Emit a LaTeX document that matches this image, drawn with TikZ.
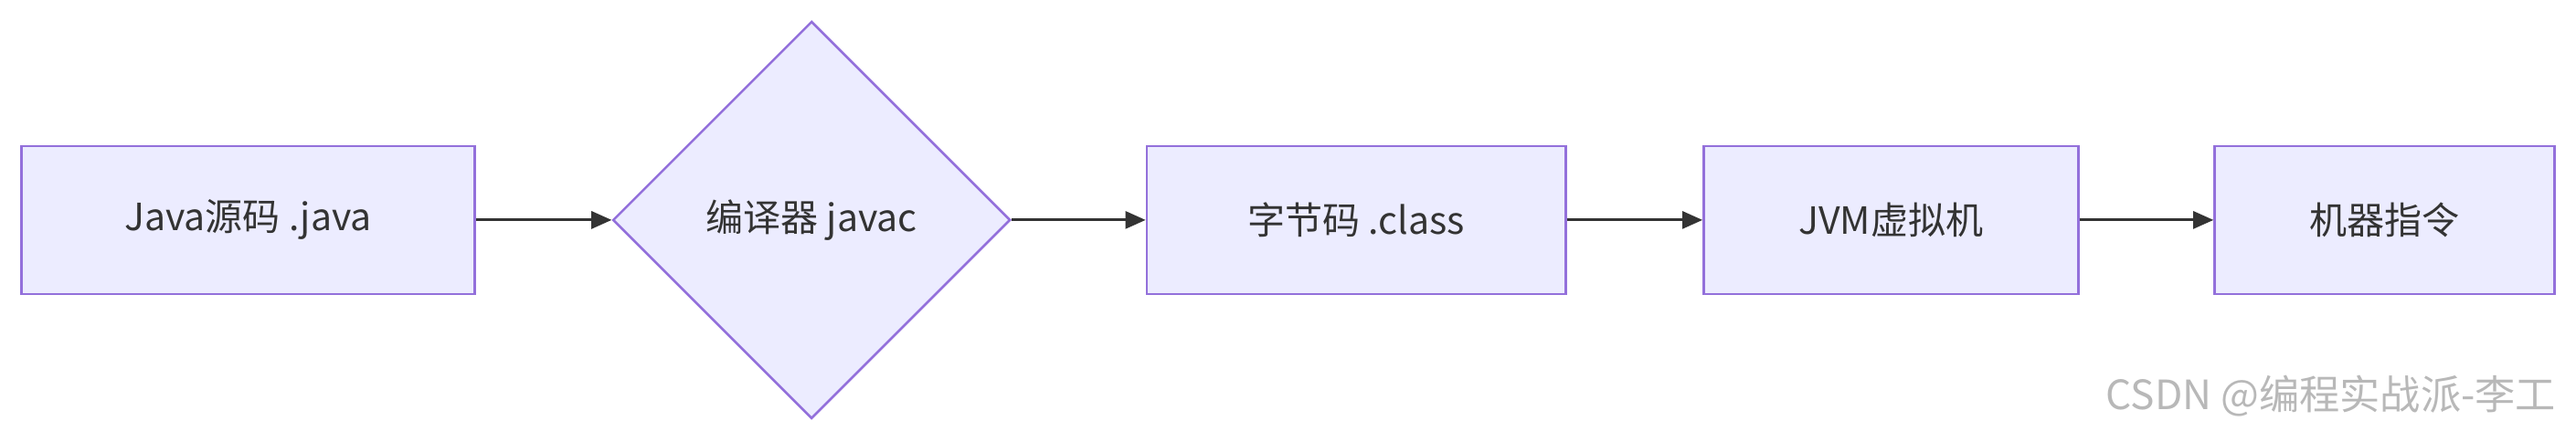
\documentclass[tikz,border=0pt]{standalone}
\usepackage{fontspec}
\setmainfont{Noto Sans CJK SC}
\usetikzlibrary{shapes.geometric,arrows.meta}
\definecolor{nfill}{HTML}{ECECFF}
\definecolor{nline}{HTML}{9370DB}
\definecolor{eline}{HTML}{333333}
\tikzset{
  boxnode/.style={draw=nline,fill=nfill,line width=0.8pt,minimum height=1.8cm,inner sep=0pt,font=\fontsize{13}{15}\selectfont,text=eline},
  decnode/.style={diamond,draw=nline,fill=nfill,line width=0.8pt,minimum width=4.84cm,minimum height=4.84cm,inner sep=0pt,font=\fontsize{13}{15}\selectfont,text=eline},
  edge/.style={draw=eline,line width=0.9pt,-{Triangle[length=7pt,width=6pt]}}
}
\begin{document}
\begin{tikzpicture}[x=0.02cm,y=-0.02cm]
\path[use as bounding box] (0,0) rectangle (1568,269);
\node[boxnode,minimum width=5.52cm] (a) at (151,134) {Java源码 .java};
\node[decnode] (b) at (494,134) {编译器 javac};
\node[boxnode,minimum width=5.1cm] (c) at (825.5,134) {字节码 .class};
\node[boxnode,minimum width=4.56cm] (d) at (1151,134) {JVM虚拟机};
\node[boxnode,minimum width=4.14cm] (e) at (1451.5,134) {机器指令};
\draw[edge] (a) -- (b);
\draw[edge] (b) -- (c);
\draw[edge] (c) -- (d);
\draw[edge] (d) -- (e);
\node[anchor=east,text=black!28,font=\fontsize{14}{16}\selectfont] (w) at (1562,241) {CSDN @编程实战派-李工};
\end{tikzpicture}
\end{document}
